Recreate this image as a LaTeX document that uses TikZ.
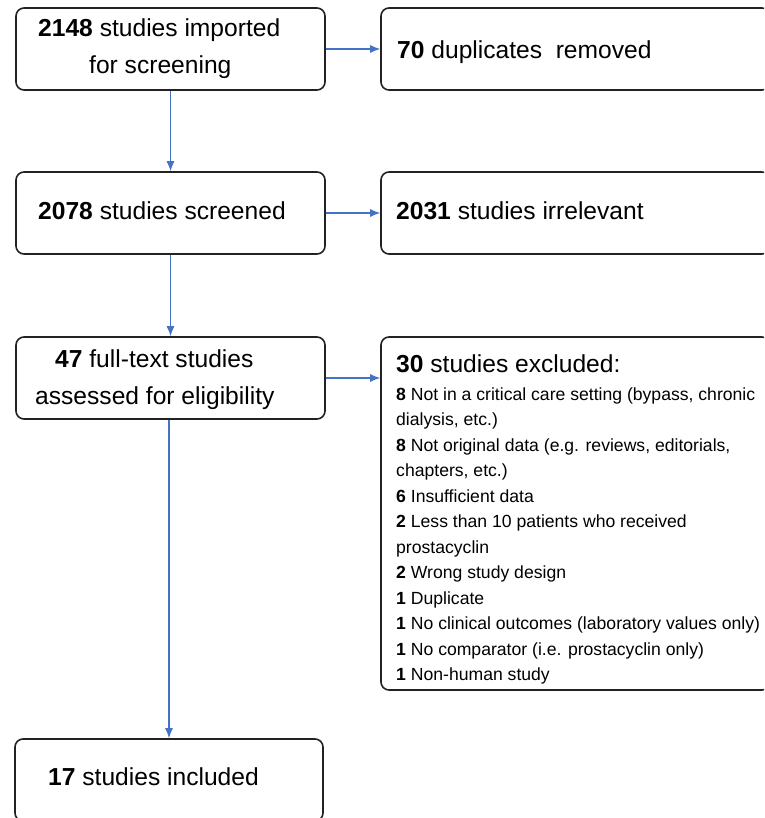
\documentclass[tikz,border=0pt]{standalone}
\usepackage{fontspec}
\setmainfont{Liberation Sans}
\usetikzlibrary{arrows.meta}
\definecolor{arrblue}{HTML}{4472C4}
\definecolor{boxline}{HTML}{222222}
\begin{document}
\begin{tikzpicture}[x=1pt,y=-1pt,
  box/.style={draw=boxline, line width=1.6pt, rounded corners=8pt, inner sep=0pt},
  arr/.style={draw=arrblue, line width=1.1pt, -{Latex[length=10pt,width=8pt]}},
  big/.style={font=\fontsize{24.6}{28}\selectfont, inner sep=0pt, anchor=base west},
  small/.style={font=\fontsize{17.6}{21}\selectfont, inner sep=0pt, anchor=base west}]
\useasboundingbox (0,0) rectangle (764,818);
\clip (0,0) rectangle (764,818);
% boxes
\node[box, minimum width=309pt, minimum height=82pt] (b1) at (170.5,49) {};
\node[box, minimum width=389pt, minimum height=82pt] (b2) at (575.5,49) {};
\node[box, minimum width=309pt, minimum height=82pt] (b3) at (170.5,213) {};
\node[box, minimum width=389pt, minimum height=82pt] (b4) at (575.5,213) {};
\node[box, minimum width=309pt, minimum height=82pt] (b5) at (170.5,378) {};
\node[box, minimum width=389pt, minimum height=353pt] (b6) at (575.5,513.5) {};
\node[box, minimum width=308pt, minimum height=82pt] (b7) at (169,780) {};
% texts
\node[big] (t1a) at (38,37) {\textbf{2148} studies imported};
\node[big] (t1b) at (89,74) {for screening};
\node[big] (t2) at (397,59) {\textbf{70} duplicates\ \ removed};
\node[big] (t3) at (38,220) {\textbf{2078} studies screened};
\node[big] (t4) at (396,220) {\textbf{2031} studies irrelevant};
\node[big] (t5a) at (55,367) {\textbf{47} full-text studies};
\node[big] (t5b) at (35,404) {assessed for eligibility};
\node[big] (t6) at (396,372) {\textbf{30} studies excluded:};
\node[small] (l1) at (396,400) {\textbf{8} Not in a critical care setting (bypass, chronic};
\node[small] (l2) at (396,425.5) {dialysis, etc.)};
\node[small] (l3) at (396,451) {\textbf{8} Not original data (e.g. reviews, editorials,};
\node[small] (l4) at (396,476.5) {chapters, etc.)};
\node[small] (l5) at (396,502) {\textbf{6} Insufficient data};
\node[small] (l6) at (396,527.5) {\textbf{2} Less than 10 patients who received};
\node[small] (l7) at (396,553) {prostacyclin};
\node[small] (l8) at (396,578.5) {\textbf{2} Wrong study design};
\node[small] (l9) at (396,604) {\textbf{1} Duplicate};
\node[small] (l10) at (396,629.5) {\textbf{1} No clinical outcomes (laboratory values only)};
\node[small] (l11) at (396,655) {\textbf{1} No comparator (i.e. prostacyclin only)};
\node[small] (l12) at (396,680.5) {\textbf{1} Non-human study};
\node[big] (t7) at (48,785) {\textbf{17} studies included};
% arrows
\draw[arr] (b1.south) -- (b3.north);
\draw[arr] (b3.south) -- (b5.north);
\draw[arr] (b5.south -| b7.north) -- (b7.north);
\draw[arr] (b1.east) -- (b2.west);
\draw[arr] (b3.east) -- (b4.west);
\draw[arr] (b5.east) -- (b5.east -| b6.west);
\end{tikzpicture}
\end{document}
